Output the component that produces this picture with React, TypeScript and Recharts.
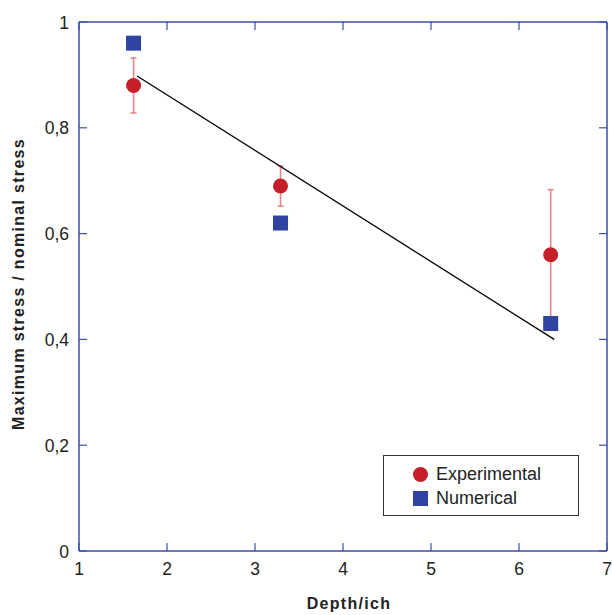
import { ScatterChart, Scatter, XAxis, YAxis, ErrorBar, Label } from "recharts";

const depth = [1.62, 3.29, 6.36];
const experimental = [0.88, 0.69, 0.56];
const expError = [0.052, 0.038, 0.123];
const numerical = [0.96, 0.62, 0.43];
const fitDepth = [1.66, 6.4];
const fitStress = [0.898, 0.4];
const xTicks = [1, 2, 3, 4, 5, 6, 7];
const yTicks = [0, 0.2, 0.4, 0.6, 0.8, 1];

const expData = depth.map((x, i) => ({ x, y: experimental[i], err: expError[i] }));
const numData = depth.map((x, i) => ({ x, y: numerical[i] }));
const fitData = fitDepth.map((x, i) => ({ x, y: fitStress[i] }));

const axisBlue = "#3d4fa6";
const red = "#c51f2a";
const blue = "#2f43a0";
const font = "'Liberation Sans', Arial, sans-serif";
const TICK = 8;
const txt = { fontSize: 17.5, fontFamily: font, fill: "#222" };
const title = { fontSize: 16, fontFamily: font, fill: "#222", fontWeight: "bold" as const, letterSpacing: 1.3 };

const fmtY = (v: number) => String(v).replace(".", ",");

function BottomTick({ x, y, payload }: any) {
  return (
    <g>
      <line x1={x} x2={x} y1={y} y2={y - TICK} stroke={axisBlue} strokeWidth={1.2} />
      <text x={x} y={y + 24} textAnchor="middle" style={txt}>
        {payload.value}
      </text>
    </g>
  );
}

function TopTick({ x, y }: any) {
  return <line x1={x} x2={x} y1={y} y2={y + TICK} stroke={axisBlue} strokeWidth={1.2} />;
}

function LeftTick({ x, y, payload }: any) {
  return (
    <g>
      <line x1={x} x2={x + TICK} y1={y} y2={y} stroke={axisBlue} strokeWidth={1.2} />
      <text x={x - 10} y={y + 6.5} textAnchor="end" style={txt}>
        {fmtY(payload.value)}
      </text>
    </g>
  );
}

function RightTick({ x, y }: any) {
  return <line x1={x} x2={x - TICK} y1={y} y2={y} stroke={axisBlue} strokeWidth={1.2} />;
}

const Dot = (p: any) => <circle cx={p.cx} cy={p.cy} r={7.5} fill={red} />;
const Square = (p: any) => <rect x={p.cx - 7.5} y={p.cy - 7.5} width={15} height={15} fill={blue} />;
const Nothing = () => <g />;

function LegendBox() {
  return (
    <div
      style={{
        position: "absolute",
        left: 383,
        top: 455,
        width: 194,
        height: 59,
        border: "1.5px solid #333",
        background: "#fff",
        fontFamily: font,
        fontSize: 18,
        color: "#222",
      }}
    >
      <div style={{ display: "flex", alignItems: "center", height: 18, marginTop: 9, marginLeft: 29 }}>
        <span style={{ width: 15, height: 15, borderRadius: "50%", background: red, display: "inline-block" }} />
        <span style={{ marginLeft: 8 }}>Experimental</span>
      </div>
      <div style={{ display: "flex", alignItems: "center", height: 18, marginTop: 6, marginLeft: 29 }}>
        <span style={{ width: 15, height: 15, background: blue, display: "inline-block" }} />
        <span style={{ marginLeft: 8 }}>Numerical</span>
      </div>
    </div>
  );
}

export default function App() {
  return (
    <div style={{ position: "absolute", left: 0, top: 0, width: 612, height: 615, background: "#fff" }}>
      <ScatterChart width={612} height={615} margin={{ top: 21, right: 4, bottom: 20, left: 19 }}>
        <XAxis
          xAxisId="b"
          type="number"
          dataKey="x"
          domain={[1, 7]}
          ticks={xTicks}
          orientation="bottom"
          height={44}
          tickSize={0}
          tickMargin={0}
          tick={<BottomTick />}
          tickLine={false}
          axisLine={{ stroke: axisBlue, strokeWidth: 1.5 }}
          allowDataOverflow
        >
          <Label
            content={() => (
              <text x={349} y={609} textAnchor="middle" style={title}>
                Depth/ich
              </text>
            )}
          />
        </XAxis>
        <XAxis
          xAxisId="t"
          type="number"
          dataKey="x"
          domain={[1, 7]}
          ticks={xTicks}
          orientation="top"
          height={1}
          tickSize={0}
          tickMargin={0}
          tick={<TopTick />}
          tickLine={false}
          axisLine={{ stroke: axisBlue, strokeWidth: 1.5 }}
          allowDataOverflow
        />
        <YAxis
          yAxisId="l"
          type="number"
          dataKey="y"
          domain={[0, 1]}
          ticks={yTicks}
          orientation="left"
          width={60}
          tickSize={0}
          tickMargin={0}
          tick={<LeftTick />}
          tickLine={false}
          axisLine={{ stroke: axisBlue, strokeWidth: 1.5 }}
          allowDataOverflow
        >
          <Label
            content={() => (
              <text x={24} y={284} transform="rotate(-90 24 284)" textAnchor="middle" style={title}>
                Maximum stress / nominal stress
              </text>
            )}
          />
        </YAxis>
        <YAxis
          yAxisId="r"
          type="number"
          dataKey="y"
          domain={[0, 1]}
          ticks={yTicks}
          orientation="right"
          width={1}
          tickSize={0}
          tickMargin={0}
          tick={<RightTick />}
          tickLine={false}
          axisLine={{ stroke: axisBlue, strokeWidth: 1.5 }}
          allowDataOverflow
        />
        <Scatter
          name="Fit"
          xAxisId="t"
          yAxisId="r"
          data={fitData}
          line={{ stroke: "#000", strokeWidth: 1.3 }}
          shape={<Nothing />}
          isAnimationActive={false}
          legendType="none"
        />
        <Scatter
          name="Experimental"
          xAxisId="b"
          yAxisId="l"
          data={expData}
          shape={<Dot />}
          isAnimationActive={false}
        >
          <ErrorBar dataKey="err" direction="y" stroke="#e5868d" strokeWidth={1.6} width={3} isAnimationActive={false} />
        </Scatter>
        <Scatter
          name="Numerical"
          xAxisId="b"
          yAxisId="l"
          data={numData}
          shape={<Square />}
          isAnimationActive={false}
        />
      </ScatterChart>
      <LegendBox />
    </div>
  );
}
